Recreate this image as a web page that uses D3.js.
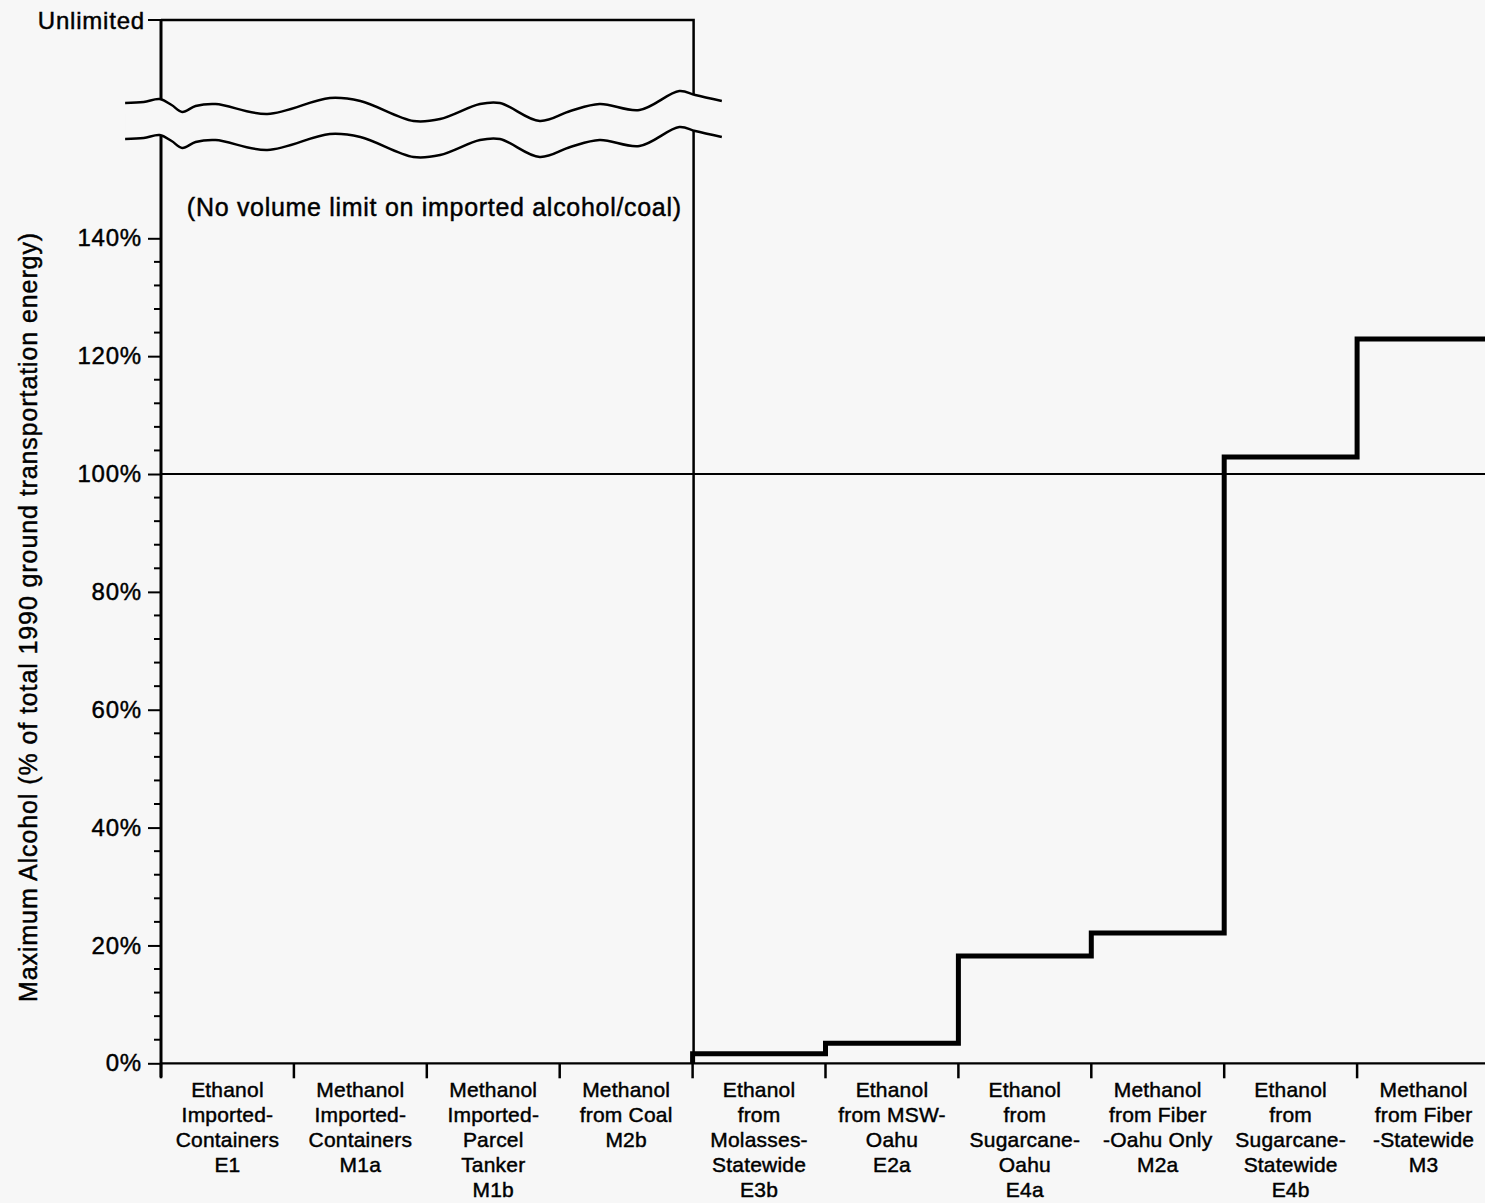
<!DOCTYPE html>
<html>
<head>
<meta charset="utf-8">
<script src="https://cdn.jsdelivr.net/npm/d3@7"></script>
<style>
  html, body { margin: 0; padding: 0; background: #f7f7f7; }
  svg { display: block; font-family: "Liberation Sans", Arial, Helvetica, sans-serif; }
  svg text { fill: #000; stroke: #000; stroke-width: 0.45px; }
</style>
</head>
<body>
<svg id="chart" width="1485" height="1203"></svg>
<script>
// Alcohol supply options, in order of increasing cost
const categoryLines = [
  ["Ethanol", "Imported-", "Containers", "E1"],
  ["Methanol", "Imported-", "Containers", "M1a"],
  ["Methanol", "Imported-", "Parcel", "Tanker", "M1b"],
  ["Methanol", "from Coal", "M2b"],
  ["Ethanol", "from", "Molasses-", "Statewide", "E3b"],
  ["Ethanol", "from MSW-", "Oahu", "E2a"],
  ["Ethanol", "from", "Sugarcane-", "Oahu", "E4a"],
  ["Methanol", "from Fiber", "-Oahu Only", "M2a"],
  ["Ethanol", "from", "Sugarcane-", "Statewide", "E4b"],
  ["Methanol", "from Fiber", "-Statewide", "M3"]
];
const categoryCodes = ["E1", "M1a", "M1b", "M2b", "E3b", "E2a", "E4a", "M2a", "E4b", "M3"];

// Maximum alcohol (% of 1990 ground transportation energy); null = unlimited
const maxAlcohol = [null, null, null, null, 1.6, 3.4, 18.2, 22.1, 102.9, 122.9];

const yTickValues = [0, 20, 40, 60, 80, 100, 120, 140];
const yTickLabels = ["0%", "20%", "40%", "60%", "80%", "100%", "120%", "140%"];
const yMinorStep = 4;
const referenceLevel = 100;
const unlimitedLabel = "Unlimited";
const noteText = "(No volume limit on imported alcohol/coal)";
const yTitle = "Maximum Alcohol (% of total 1990 ground transportation energy)";

// Axis-break wave: [position in band units, vertical offset in px]
const breakWave = [
  [-0.27, -5], [-0.13, -6], [-0.01, -9], [0.08, -3], [0.16, 4],
  [0.26, -2], [0.41, -4], [0.80, 6], [1.27, -10], [1.50, -7], [1.90, 13],
  [2.10, 11], [2.40, -4], [2.55, -5], [2.85, 13], [3.08, 3], [3.30, -4],
  [3.60, 2], [3.90, -17], [4.02, -13], [4.22, -7]
];

const svg = d3.select("#chart");
const bg = "#f7f7f7";
const left = 161, right = 1490, bottom = 1063.3, top140 = 238.3, unlimitedY = 20;

const x = d3.scaleBand().domain(categoryCodes).range([left, right]).padding(0);
const y = d3.scaleLinear().domain([0, 140]).range([bottom, top140]);
const bw = x.bandwidth();

const g = svg.append("g");

// Reference line at 100%
g.append("line")
  .attr("x1", left).attr("x2", right)
  .attr("y1", y(referenceLevel)).attr("y2", y(referenceLevel))
  .attr("stroke", "#000").attr("stroke-width", 2);

// Unlimited options: box reaching the "Unlimited" level
const unlimitedIdx = maxAlcohol.map((v, i) => v === null ? i : -1).filter(i => i >= 0);
const boxRight = x(categoryCodes[unlimitedIdx[unlimitedIdx.length - 1]]) + bw + 1;
g.append("path")
  .attr("d", `M${left},${unlimitedY}H${boxRight}V${bottom}`)
  .attr("fill", "none").attr("stroke", "#000").attr("stroke-width", 2.5);

// x axis baseline
g.append("line")
  .attr("x1", left).attr("x2", right)
  .attr("y1", bottom).attr("y2", bottom)
  .attr("stroke", "#000").attr("stroke-width", 2.2);

// y axis line
g.append("line")
  .attr("x1", left).attr("x2", left)
  .attr("y1", unlimitedY).attr("y2", bottom + 14)
  .attr("stroke", "#000").attr("stroke-width", 3);

// Step line for limited options
const limited = maxAlcohol.map((v, i) => ({ v, i })).filter(d => d.v !== null);
let stepD = `M${x(categoryCodes[limited[0].i])},${y(0)}`;
limited.forEach(d => {
  const x0 = x(categoryCodes[d.i]);
  stepD += `V${y(d.v)}H${x0 + bw}`;
});
g.append("path")
  .attr("d", stepD)
  .attr("fill", "none").attr("stroke", "#000").attr("stroke-width", 5)
  .attr("stroke-linejoin", "miter");

// Y axis ticks (major with labels, minor every 4%)
const yAxis = d3.axisLeft(y)
  .tickValues(yTickValues)
  .tickFormat((d, i) => yTickLabels[i])
  .tickSize(13).tickPadding(6);
const yAxisG = g.append("g").attr("transform", `translate(${left},0)`).call(yAxis);
yAxisG.select(".domain").remove();
yAxisG.selectAll(".tick line").attr("stroke", "#000").attr("stroke-width", 2);
yAxisG.selectAll(".tick text")
  .attr("font-size", 24).attr("fill", "#000")
  .attr("font-family", "Liberation Sans, Arial, sans-serif")
  .style("letter-spacing", "0.8px");

const minorTicks = d3.range(0, 140 + 0.001, yMinorStep).filter(v => v % 20 !== 0);
g.selectAll("line.minor").data(minorTicks).join("line")
  .attr("class", "minor")
  .attr("x1", left - 7).attr("x2", left)
  .attr("y1", d => y(d)).attr("y2", d => y(d))
  .attr("stroke", "#000").attr("stroke-width", 2);

// "Unlimited" tick
g.append("line")
  .attr("x1", left - 13).attr("x2", left)
  .attr("y1", unlimitedY).attr("y2", unlimitedY)
  .attr("stroke", "#000").attr("stroke-width", 2);
g.append("text")
  .attr("x", left - 16).attr("y", unlimitedY + 9)
  .attr("text-anchor", "end").attr("font-size", 24)
  .style("letter-spacing", "0.8px")
  .text(unlimitedLabel);

// X axis ticks at category boundaries
const boundaries = categoryCodes.map(c => x(c)).concat([right]);
g.selectAll("line.xtick").data(boundaries).join("line")
  .attr("class", "xtick")
  .attr("x1", d => d).attr("x2", d => d)
  .attr("y1", bottom).attr("y2", bottom + 15)
  .attr("stroke", "#000").attr("stroke-width", 2.5);

// Category labels
const labelG = g.selectAll("text.cat").data(categoryLines).join("text")
  .attr("class", "cat")
  .attr("text-anchor", "middle")
  .attr("font-size", 21)
  .style("letter-spacing", "0.2px")
  .attr("x", (d, i) => x(categoryCodes[i]) + bw / 2)
  .attr("y", 1097);
labelG.selectAll("tspan").data(d => d).join("tspan")
  .attr("x", function () { return d3.select(this.parentNode).attr("x"); })
  .attr("dy", (d, i) => i === 0 ? 0 : 25)
  .text(d => d);

// Axis break: mask between two waves, then draw the wave outlines
const waveTopY = 108, waveGap = 36;
const wx = u => left + u * bw;
const curve = d3.curveCatmullRom.alpha(0.5);
const waveLine = d3.line().x(d => wx(d[0])).y(d => d[1]).curve(curve);
const topPts = breakWave.map(p => [p[0], waveTopY + p[1]]);
const botPts = breakWave.map(p => [p[0], waveTopY + waveGap + p[1]]);
const area = d3.area()
  .x(d => wx(d[0])).y0(d => waveTopY + d[1]).y1(d => waveTopY + waveGap + d[1])
  .curve(curve);
g.append("path").datum(breakWave).attr("d", area).attr("fill", bg);
[topPts, botPts].forEach(pts => {
  g.append("path").attr("d", waveLine(pts))
    .attr("fill", "none").attr("stroke", "#000").attr("stroke-width", 2.5);
});

// Note inside the unlimited box
g.append("text")
  .attr("x", (left + boxRight) / 2 + 7).attr("y", 216)
  .attr("text-anchor", "middle").attr("font-size", 25)
  .style("letter-spacing", "0.7px")
  .text(noteText);

// Y axis title
g.append("text")
  .attr("transform", `translate(37,617) rotate(-90)`)
  .attr("text-anchor", "middle").attr("font-size", 25)
  .style("letter-spacing", "0.9px")
  .text(yTitle);
</script>
</body>
</html>
